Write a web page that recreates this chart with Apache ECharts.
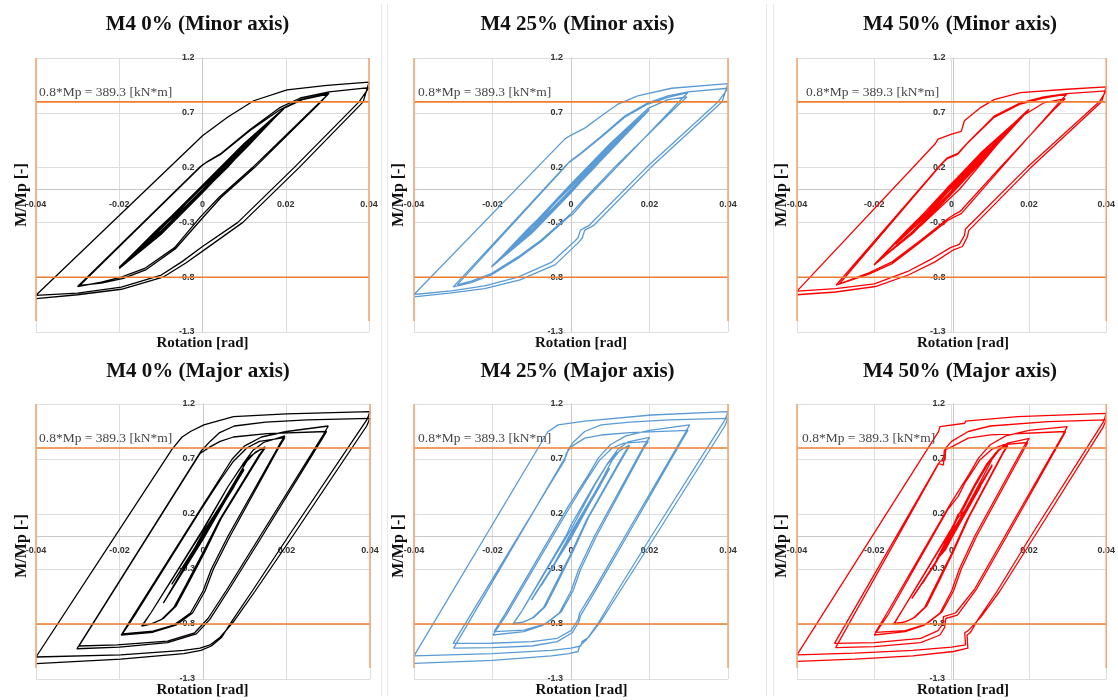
<!DOCTYPE html>
<html><head><meta charset="utf-8">
<script src="https://cdn.jsdelivr.net/npm/echarts@6/dist/echarts.min.js"></script>
<style>html,body{margin:0;padding:0;background:#fff}#c{width:1118px;height:700px}</style>
</head><body><div id="c"></div>
<script>
// ---------------- data (rotation [rad], M/Mp [-]) ----------------
const minor0 = [
 [0,0],[0.0095,0.37],[0.004,0.13],[-0.0005,-0.03],[-0.0095,-0.37],[-0.004,-0.13],[0.0005,0.04],
 [0.0145,0.56],[0.006,0.2],[-0.001,-0.06],[-0.0145,-0.55],[-0.006,-0.19],[0.001,0.06],
 [0.0195,0.74],[0.011,0.41],[0,-0.03],[-0.01,-0.41],[-0.02,-0.72],[-0.011,-0.38],[0,0.04],[0.01,0.40],[0.0195,0.74],[0.011,0.40],[0,-0.02],[-0.01,-0.40],[-0.0200,-0.71],
 [-0.011,-0.37],[0,0.02],[0.01,0.39],[0.0195,0.735],[0.011,0.42],[0,0.0],[-0.01,-0.38],[-0.0200,-0.715],[-0.01,-0.36],[0,0.03],[0.01,0.41],[0.0195,0.74],[0.01,0.37],[0,-0.01],[-0.01,-0.39],[-0.0200,-0.71],
 [-0.01,-0.34],[0,0.04],[0.01,0.42],[0.0195,0.74],[0.024,0.82],[0.0302,0.87],
 [0.028,0.79],[0.012,0.2],[0.004,-0.07],[-0.0005,-0.25],[-0.0067,-0.53],[-0.0139,-0.72],[-0.0195,-0.80],[-0.0243,-0.845],[-0.0300,-0.885],
 [-0.0008,0.20],[0.0004,0.235],[0.0043,0.32],[0.0115,0.54],[0.0187,0.73],[0.0235,0.82],[0.0304,0.88],
 [0.0282,0.79],[0.0125,0.2],[0.0045,-0.07],[0.0,-0.26],[-0.0065,-0.54],[-0.0135,-0.73],[-0.019,-0.81],[-0.0243,-0.855],[-0.0295,-0.875],
 [-0.0004,0.21],[0.0008,0.245],[0.0045,0.33],[0.0115,0.55],[0.0187,0.75],[0.0235,0.835],[0.0304,0.89],[0.04,0.93],
 [0.0376,0.80],[0.022,0.2],[0.0085,-0.3],[0.0,-0.52],[-0.005,-0.66],[-0.0099,-0.78],[-0.0195,-0.89],[-0.03,-0.945],[-0.04,-0.965],
 [0.0,0.49],[0.006,0.66],[0.0123,0.81],[0.0203,0.91],[0.0299,0.95],[0.04,0.98],
 [0.0386,0.80],[0.0232,0.2],[0.0097,-0.3],[0.0012,-0.53],[-0.004,-0.67],[-0.0095,-0.80],[-0.0195,-0.91],[-0.03,-0.96],[-0.04,-0.995]
];
const minor25 = [
 [0,0],[0.0095,0.36],[0.004,0.13],[-0.0005,-0.03],[-0.0095,-0.35],[-0.004,-0.12],[0.0005,0.04],
 [0.0145,0.54],[0.006,0.2],[-0.001,-0.06],[-0.0145,-0.53],[-0.006,-0.19],[0.001,0.06],
 [0.020,0.733],[0.011,0.41],[0,-0.03],[-0.01,-0.40],[-0.0203,-0.706],[-0.011,-0.37],[0,0.04],[0.01,0.40],[0.0198,0.72],[0.011,0.39],[0,-0.02],[-0.01,-0.39],[-0.0200,-0.70],
 [-0.011,-0.36],[0,0.02],[0.01,0.39],[0.0198,0.725],[0.011,0.41],[0,0.0],[-0.01,-0.37],[-0.0202,-0.70],[-0.01,-0.35],[0,0.03],[0.01,0.41],[0.0199,0.73],[0.01,0.36],[0,-0.01],[-0.01,-0.38],[-0.0200,-0.70],
 [-0.01,-0.33],[0,0.05],[0.01,0.42],[0.0196,0.74],[0.0247,0.82],[0.0295,0.845],
 [0.027,0.76],[0.011,0.2],[0.003,-0.1],[0.0,-0.22],[-0.0006,-0.24],[-0.0012,-0.26],[-0.0076,-0.46],[-0.0135,-0.615],[-0.0203,-0.767],[-0.0254,-0.835],[-0.029,-0.87],
 [-0.0012,0.218],[-0.0006,0.245],[0.0022,0.318],[0.0077,0.476],[0.0137,0.66],[0.0196,0.78],[0.0247,0.84],[0.0298,0.885],
 [0.0272,0.79],[0.0115,0.2],[0.0035,-0.1],[0.0005,-0.225],[-0.0004,-0.245],[-0.0012,-0.27],[-0.0076,-0.475],[-0.0135,-0.63],[-0.0203,-0.78],[-0.0254,-0.85],[-0.0300,-0.888],
 [-0.0012,0.225],[-0.0005,0.25],[0.0022,0.325],[0.0077,0.485],[0.0137,0.67],[0.0196,0.79],[0.0247,0.855],[0.0298,0.89],[0.04,0.924],
 [0.0375,0.80],[0.0192,0.2],[0.0045,-0.33],[0.0024,-0.37],[0.0018,-0.44],[0.0010,-0.47],[-0.005,-0.665],[-0.0135,-0.80],[-0.022,-0.88],[-0.0305,-0.925],[-0.04,-0.958],
 [-0.0016,0.46],[-0.0003,0.49],[0.0035,0.56],[0.0077,0.67],[0.012,0.78],[0.017,0.855],[0.0256,0.924],[0.04,0.967],
 [0.0385,0.80],[0.0203,0.2],[0.0057,-0.33],[0.0035,-0.37],[0.0029,-0.44],[0.0020,-0.48],[-0.004,-0.685],[-0.013,-0.825],[-0.022,-0.905],[-0.031,-0.945],[-0.04,-0.98]
];
const minor50 = [
 [0,0],[0.0095,0.35],[0.003,0.1],[-0.001,-0.05],[-0.0095,-0.34],[-0.003,-0.1],[0.001,0.05],
 [0.0145,0.52],[0.005,0.17],[-0.0015,-0.08],[-0.0145,-0.50],[-0.005,-0.16],[0.0015,0.08],
 [0.0200,0.733],[0.012,0.42],[0.002,0.0],[-0.008,-0.33],[-0.0201,-0.69],[-0.012,-0.40],[-0.002,-0.02],[0.008,0.35],[0.0198,0.72],[0.011,0.38],[0.0,-0.04],[-0.01,-0.40],[-0.0199,-0.68],
 [-0.011,-0.35],[0.0,0.03],[0.01,0.40],[0.0199,0.725],[0.012,0.43],[0.001,0.01],[-0.009,-0.36],[-0.0200,-0.685],[-0.01,-0.33],[-0.001,0.02],[0.009,0.37],[0.0199,0.73],[0.01,0.36],[0.0,-0.02],[-0.01,-0.38],[-0.0200,-0.685],
 [-0.01,-0.32],[0,0.04],[0.01,0.40],[0.0178,0.66],[0.0238,0.79],[0.0294,0.83],
 [0.0268,0.74],[0.0125,0.2],[0.0022,-0.2],[0.0008,-0.225],[-0.0009,-0.265],[-0.0086,-0.48],[-0.0154,-0.66],[-0.0214,-0.76],[-0.029,-0.86],
 [-0.0026,0.233],[-0.0012,0.28],[0.0015,0.32],[0.004,0.42],[0.011,0.658],[0.0178,0.78],[0.0238,0.833],[0.0298,0.87],
 [0.0272,0.77],[0.0129,0.2],[0.0025,-0.22],[0.001,-0.245],[-0.0009,-0.28],[-0.0086,-0.494],[-0.0154,-0.676],[-0.0214,-0.773],[-0.0299,-0.873],
 [-0.0025,0.24],[-0.0011,0.29],[0.0016,0.33],[0.0042,0.43],[0.011,0.67],[0.0178,0.79],[0.0238,0.845],[0.0298,0.875],[0.04,0.90],
 [0.0382,0.80],[0.0195,0.2],[0.0036,-0.36],[0.0033,-0.42],[0.002,-0.50],[-0.0003,-0.53],[-0.005,-0.63],[-0.0115,-0.75],[-0.02,-0.86],[-0.03,-0.905],[-0.04,-0.927],
 [-0.0043,0.415],[-0.0035,0.46],[0.0,0.506],[0.0025,0.53],[0.0033,0.627],[0.0076,0.75],[0.011,0.82],[0.0178,0.885],[0.0298,0.915],[0.04,0.936],
 [0.0388,0.80],[0.0205,0.2],[0.0044,-0.375],[0.0041,-0.43],[0.0028,-0.52],[0.0005,-0.55],[-0.0043,-0.66],[-0.0112,-0.78],[-0.0197,-0.885],[-0.03,-0.935],[-0.04,-0.96]
];
const major0 = [
 [0,0],[0.0075,0.45],[0.0,0.01],[-0.0075,-0.44],[0,0.0],
 [0.0098,0.60],[0.0055,0.33],[0.0,-0.03],[-0.0095,-0.61],[-0.005,-0.32],[0.0,0.03],
 [0.0098,0.61],[0.005,0.31],[-0.0005,-0.04],[-0.0095,-0.61],[-0.0045,-0.30],[0.0005,0.04],
 [0.008,0.52],[0.0105,0.68],[0.0125,0.76],[0.0149,0.81],
 [0.0135,0.74],[0.004,0.15],[0.0,-0.15],[-0.004,-0.44],[-0.007,-0.65],[-0.0100,-0.76],[-0.0125,-0.80],[-0.0147,-0.82],
 [-0.0125,-0.70],[0.0,0.05],[0.006,0.45],[0.009,0.62],[0.0115,0.73],[0.0135,0.78],[0.0149,0.80],
 [0.0136,0.73],[0.0045,0.17],[0.0005,-0.14],[-0.0035,-0.43],[-0.0065,-0.64],[-0.0095,-0.75],[-0.012,-0.795],[-0.0145,-0.815],
 [-0.0125,-0.70],[0.0,0.06],[0.006,0.45],[0.0095,0.65],[0.012,0.78],[0.0145,0.85],[0.0196,0.91],
 [0.0183,0.83],[0.006,0.0],[0.002,-0.3],[0.0,-0.5],[-0.003,-0.70],[-0.007,-0.81],[-0.012,-0.865],[-0.0193,-0.89],
 [-0.0165,-0.73],[-0.0005,0.24],[0.004,0.5],[0.0073,0.68],[0.0105,0.8],[0.0135,0.86],[0.0196,0.895],
 [0.0184,0.82],[0.0065,0.0],[0.0025,-0.3],[0.0005,-0.5],[-0.0025,-0.70],[-0.0065,-0.81],[-0.012,-0.875],[-0.0196,-0.90],
 [-0.0168,-0.73],[0.0,0.28],[0.0045,0.55],[0.007,0.70],[0.01,0.82],[0.014,0.90],[0.02,0.95],[0.0300,1.0],
 [0.0288,0.92],[0.0137,0.0],[0.0055,-0.5],[0.0012,-0.75],[-0.002,-0.88],[-0.0085,-0.955],[-0.0205,-0.99],[-0.0297,-1.0],
 [-0.0007,0.75],[0.0017,0.81],[0.0041,0.86],[0.0073,0.90],[0.0153,0.93],[0.0296,0.95],
 [0.0285,0.88],[0.0142,0.0],[0.006,-0.5],[0.0016,-0.76],[-0.0016,-0.89],[-0.0085,-0.97],[-0.02,-1.01],[-0.0302,-1.025],
 [-0.0005,0.77],[0.0017,0.86],[0.004,0.94],[0.0075,1.0],[0.015,1.035],[0.025,1.055],[0.04,1.07],
 [0.0392,1.0],[0.0215,0.0],[0.0125,-0.5],[0.0073,-0.78],[0.0041,-0.92],[0.0017,-0.99],[-0.0007,-1.02],[-0.0046,-1.04],[-0.0197,-1.08],[-0.04,-1.10],
 [-0.0074,0.79],[-0.005,0.90],[-0.003,0.95],[0.0002,1.01],[0.0073,1.085],[0.02,1.11],[0.04,1.13],
 [0.0393,1.06],[0.0205,0.0],[0.0118,-0.5],[0.0068,-0.78],[0.0045,-0.92],[0.002,-1.0],[-0.0005,-1.04],[-0.0046,-1.07],[-0.0197,-1.12],[-0.04,-1.16]
];
const major25 = [
 [0,0],[0.0075,0.46],[0.0,0.0],[-0.0075,-0.45],[0,0.0],
 [0.0098,0.61],[0.0055,0.34],[0,-0.02],[-0.0100,-0.58],[-0.005,-0.30],[0,0.03],
 [0.0098,0.62],[0.005,0.32],[-0.0005,-0.04],[-0.0101,-0.58],[-0.0045,-0.28],[0.0005,0.04],
 [0.008,0.52],[0.0105,0.69],[0.0125,0.78],[0.0149,0.827],
 [0.0135,0.75],[0.004,0.15],[0.0,-0.16],[-0.004,-0.44],[-0.007,-0.65],[-0.010,-0.75],[-0.0125,-0.785],[-0.0148,-0.80],
 [-0.0125,-0.68],[0.0,0.06],[0.006,0.46],[0.009,0.64],[0.0115,0.75],[0.0135,0.80],[0.0149,0.815],
 [0.0136,0.74],[0.0045,0.17],[0.0005,-0.14],[-0.0035,-0.43],[-0.0065,-0.64],[-0.0095,-0.74],[-0.012,-0.78],[-0.0146,-0.795],
 [-0.0125,-0.68],[-0.001,0.02],[0.0,0.1],[0.006,0.47],[0.0095,0.67],[0.012,0.79],[0.0145,0.855],[0.02,0.897],
 [0.0186,0.82],[0.006,0.0],[0.002,-0.3],[0.0,-0.5],[-0.003,-0.70],[-0.007,-0.81],[-0.012,-0.87],[-0.0199,-0.90],
 [-0.0165,-0.72],[-0.0005,0.25],[0.004,0.51],[0.0073,0.69],[0.0105,0.80],[0.0135,0.845],[0.0197,0.86],
 [0.0184,0.79],[0.0065,0.0],[0.0025,-0.3],[0.0005,-0.5],[-0.0025,-0.69],[-0.0065,-0.80],[-0.012,-0.855],[-0.0196,-0.87],
 [-0.0168,-0.71],[-0.0005,0.28],[0.0045,0.56],[0.007,0.71],[0.01,0.83],[0.014,0.91],[0.02,0.96],[0.0302,1.01],
 [0.0290,0.93],[0.0138,0.0],[0.006,-0.48],[0.0022,-0.70],[0.0018,-0.76],[0.0,-0.86],[-0.0035,-0.93],[-0.01,-0.96],[-0.0205,-0.975],[-0.030,-0.976],
 [-0.0016,0.69],[-0.0012,0.75],[0.0,0.81],[0.0035,0.89],[0.0077,0.918],[0.015,0.94],[0.0298,0.96],
 [0.0286,0.89],[0.0143,0.0],[0.0065,-0.48],[0.0025,-0.72],[0.0020,-0.78],[0.0003,-0.88],[-0.0035,-0.96],[-0.01,-1.0],[-0.02,-1.015],[-0.0299,-1.02],
 [-0.0012,0.73],[-0.0008,0.78],[0.0005,0.85],[0.0035,0.95],[0.0077,1.01],[0.015,1.035],[0.025,1.055],[0.04,1.07],
 [0.0392,1.0],[0.0215,0.0],[0.0125,-0.5],[0.0075,-0.78],[0.0045,-0.92],[0.0028,-0.96],[0.0025,-1.0],[0.0,-1.02],[-0.005,-1.04],[-0.02,-1.07],[-0.04,-1.09],
 [-0.0059,0.948],[-0.0033,1.01],[0.0035,1.045],[0.0205,1.10],[0.04,1.13],
 [0.0393,1.06],[0.0205,0.0],[0.0118,-0.5],[0.0068,-0.8],[0.0040,-0.94],[0.0022,-1.0],[0.0018,-1.05],[-0.0005,-1.07],[-0.005,-1.09],[-0.02,-1.13],[-0.04,-1.158]
];
const major50 = [
 [0,0],[0.002,0.13],[0.0008,0.09],[-0.0015,-0.05],[-0.002,-0.09],[-0.0005,-0.02],[0.0,0.0],
 [0.004,0.25],[0.0015,0.16],[-0.004,-0.22],[-0.0015,-0.12],[0.0,-0.02],
 [0.0075,0.45],[0.0,0.0],[-0.0075,-0.43],[0,0.0],
 [0.0105,0.64],[0.0055,0.34],[0,-0.02],[-0.0103,-0.567],[-0.005,-0.29],[0,0.03],
 [0.0105,0.65],[0.005,0.32],[-0.0005,-0.04],[-0.0103,-0.57],[-0.0045,-0.27],[0.0005,0.04],
 [0.008,0.53],[0.0105,0.70],[0.0125,0.79],[0.0145,0.833],
 [0.0133,0.76],[0.004,0.15],[0.0,-0.16],[-0.004,-0.44],[-0.007,-0.65],[-0.010,-0.75],[-0.0125,-0.785],[-0.015,-0.80],
 [-0.0125,-0.66],[0.0,0.07],[0.006,0.47],[0.009,0.65],[0.0115,0.76],[0.0135,0.81],[0.0145,0.82],
 [0.0133,0.75],[0.0045,0.17],[0.0005,-0.14],[-0.0035,-0.43],[-0.0065,-0.64],[-0.0095,-0.74],[-0.012,-0.78],[-0.0148,-0.795],
 [-0.0125,-0.66],[0.0,0.06],[0.0017,0.2],[0.0025,0.21],[0.006,0.45],[0.0095,0.66],[0.012,0.78],[0.0145,0.845],[0.0201,0.888],
 [0.0188,0.82],[0.006,0.0],[0.002,-0.3],[0.0,-0.5],[-0.003,-0.70],[-0.007,-0.81],[-0.012,-0.87],[-0.020,-0.90],
 [-0.0165,-0.72],[-0.001,0.24],[0.0017,0.36],[0.0034,0.48],[0.0073,0.69],[0.0105,0.79],[0.0135,0.83],[0.0197,0.85],
 [0.0186,0.78],[0.0065,0.0],[0.0025,-0.3],[0.0005,-0.5],[-0.0025,-0.69],[-0.0065,-0.80],[-0.012,-0.86],[-0.0197,-0.876],
 [-0.0167,-0.70],[-0.0005,0.28],[0.0045,0.56],[0.007,0.71],[0.01,0.83],[0.014,0.91],[0.02,0.96],[0.0299,0.994],
 [0.0288,0.92],[0.0138,0.0],[0.006,-0.48],[0.001,-0.70],[-0.0021,-0.733],[-0.0023,-0.80],[-0.0035,-0.86],[-0.008,-0.93],[-0.02,-0.97],[-0.0303,-0.976],
 [-0.0034,0.66],[-0.0021,0.645],[-0.0019,0.78],[0.0,0.81],[0.0043,0.89],[0.01,0.92],[0.0295,0.95],
 [0.0284,0.88],[0.0143,0.0],[0.0065,-0.48],[0.0015,-0.72],[-0.0015,-0.75],[-0.0018,-0.83],[-0.003,-0.9],[-0.008,-0.97],[-0.02,-1.005],[-0.030,-1.015],
 [-0.0030,0.68],[-0.0017,0.69],[-0.0015,0.80],[0.0,0.86],[0.0043,0.95],[0.01,1.0],[0.025,1.04],[0.04,1.055],
 [0.0392,0.99],[0.0215,0.0],[0.0125,-0.5],[0.0075,-0.74],[0.0043,-0.86],[0.0034,-0.88],[0.0036,-0.99],[0.0,-1.01],[-0.01,-1.04],[-0.025,-1.065],[-0.04,-1.08],
 [-0.0034,0.948],[-0.003,0.995],[0.0034,1.025],[0.0036,1.045],[0.0171,1.085],[0.04,1.115],
 [0.0393,1.04],[0.0205,0.0],[0.0118,-0.5],[0.0068,-0.76],[0.0048,-0.88],[0.0040,-0.90],[0.0042,-1.02],[0.0005,-1.05],[-0.01,-1.09],[-0.025,-1.12],[-0.04,-1.14]
];
const panelTitles = ['M4 0% (Minor axis)','M4 25% (Minor axis)','M4 50% (Minor axis)','M4 0% (Major axis)','M4 25% (Major axis)','M4 50% (Major axis)'];
const panelData = [minor0, minor25, minor50, major0, major25, major50];
const limitM = 0.8;          // 0.8*Mp
const limitRot = 0.04;       // rotation limit [rad]
const limitSpan = 1.2;       // extent of the vertical limit lines
const limitText = '0.8*Mp = 389.3 [kN*m]';
const xTicks = {min:-0.04, max:0.04, interval:0.02};
const yTicks = {min:-1.3, max:1.2, interval:0.5};

// ---------------- layout / styles ----------------
const colors = ['#000000','#5B9BD5','#FF0000','#000000','#5B9BD5','#FF0000'];
const grids = [
 {left:36, top:58, width:333, height:274},
 {left:414, top:58, width:314, height:274},
 {left:797, top:58, width:313, height:274},
 {left:36, top:404, width:334, height:275},
 {left:414, top:404, width:314, height:275},
 {left:797, top:404, width:312, height:275}
];
const titlePos = [[197.5,25],[577.5,25],[960,25],[198,372],[577.5,372],[960,372]];
const yNamePos = [[21.5,195],[398.5,195],[781.5,195],[21.5,546],[398.5,546],[781.5,546]];
const xNamePos = [[202.5,343],[581,343],[963,343],[202.5,690],[581.5,690],[963,690]];
const limitTextPos = [[39,92],[418,92],[806,92],[39,438],[418,438],[802,438]];

const chart = echarts.init(document.getElementById('c'), null, {renderer:'canvas'});
const xAxes = [], yAxes = [], series = [], graphics = [];
const tickFont = {fontSize:9, fontWeight:'bold', color:'#333333', fontFamily:'"Liberation Sans", Arial, sans-serif'};
for (let i = 0; i < 6; i++) {
  const g = grids[i];
  // place axes where the other axis is zero (axes cross at the origin)
  const xOff = -g.height * (0 - yTicks.min) / (yTicks.max - yTicks.min);
  const yOff = -g.width * (0 - xTicks.min) / (xTicks.max - xTicks.min);
  xAxes.push({
    gridIndex:i, type:'value', min:xTicks.min, max:xTicks.max, interval:xTicks.interval,
    position:'bottom', offset:xOff,
    axisLine:{show:true, onZero:false, lineStyle:{color:'#C8C8C8', width:1}},
    axisTick:{show:false},
    axisLabel:Object.assign({margin:10, formatter:v => Math.abs(v) < 1e-9 ? '0' : String(+v.toFixed(2))}, tickFont),
    splitLine:{show:true, lineStyle:{color:'#DDDDDD', width:1}}
  });
  yAxes.push({
    gridIndex:i, type:'value', min:yTicks.min, max:yTicks.max, interval:yTicks.interval,
    position:'left', offset:yOff,
    axisLine:{show:true, onZero:false, lineStyle:{color:'#C8C8C8', width:1}},
    axisTick:{show:false},
    axisLabel:Object.assign({margin:8, formatter:v => v.toFixed(1)}, tickFont),
    splitLine:{show:true, lineStyle:{color:'#DDDDDD', width:1}}
  });
  series.push({
    type:'line', xAxisIndex:i, yAxisIndex:i, data:panelData[i], showSymbol:false, symbol:'none',
    lineStyle:{color:colors[i], width:1.3}, itemStyle:{color:colors[i]}, silent:true, z:3, clip:true
  });
  [[[-limitRot, limitM],[limitRot, limitM]], [[-limitRot,-limitM],[limitRot,-limitM]]].forEach(d => {
    series.push({type:'line', xAxisIndex:i, yAxisIndex:i, data:d, showSymbol:false, symbol:'none',
      lineStyle:{color:'#ED7D31', width:1.6}, silent:true, z:4});
  });
  [[[-limitRot,-limitSpan],[-limitRot,limitSpan]], [[limitRot,-limitSpan],[limitRot,limitSpan]]].forEach(d => {
    series.push({type:'line', xAxisIndex:i, yAxisIndex:i, data:d, showSymbol:false, symbol:'none',
      lineStyle:{color:'#F4A773', width:1.6}, silent:true, z:4, clip:false});
  });
  graphics.push({type:'text', x:titlePos[i][0], y:titlePos[i][1], z:10, style:{text:panelTitles[i], fill:'#111',
    font:'bold 21px "Liberation Serif", "Times New Roman", serif', textAlign:'center', textVerticalAlign:'middle', align:'center', verticalAlign:'middle'}});
  graphics.push({type:'text', x:yNamePos[i][0], y:yNamePos[i][1], rotation:Math.PI/2, z:10, style:{text:'M/Mp [-]', fill:'#111',
    font:'bold 16px "Liberation Serif", "Times New Roman", serif', textAlign:'center', textVerticalAlign:'middle', align:'center', verticalAlign:'middle'}});
  graphics.push({type:'text', x:xNamePos[i][0], y:xNamePos[i][1], z:10, style:{text:'Rotation [rad]', fill:'#111',
    font:'bold 15px "Liberation Serif", "Times New Roman", serif', textAlign:'center', textVerticalAlign:'middle', align:'center', verticalAlign:'middle'}});
  graphics.push({type:'text', x:limitTextPos[i][0], y:limitTextPos[i][1], z:10, style:{text:limitText, fill:'#464646',
    font:'13.5px "Liberation Serif", "Times New Roman", serif', textAlign:'left', textVerticalAlign:'middle', align:'left', verticalAlign:'middle'}});
}
// faint chart-frame borders
[381.5, 387.5, 766.5, 773.5].forEach(x => {
  graphics.push({type:'line', shape:{x1:x, y1:4, x2:x, y2:696}, z:0, style:{stroke:'#E9E9E9', lineWidth:1}});
});

chart.setOption({
  animation:false,
  backgroundColor:'#ffffff',
  grid: grids.map(g => Object.assign({containLabel:false}, g)),
  xAxis: xAxes, yAxis: yAxes, series: series, graphic: graphics
});
</script>
</body></html>
